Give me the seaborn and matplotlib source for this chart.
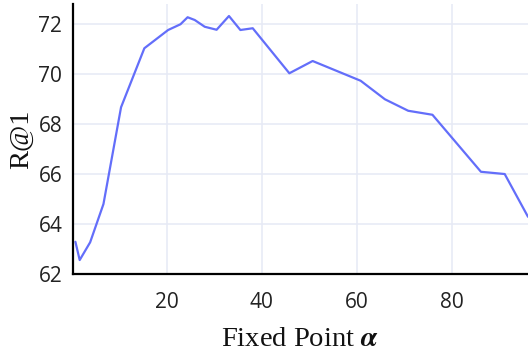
import matplotlib
matplotlib.use("Agg")
import matplotlib.pyplot as plt
import seaborn as sns
import pandas as pd

# Recall@1 as the fixed point alpha is varied
alpha = [0.8, 1.7, 3.9, 6.7, 10.4, 15.3, 20.3, 22.9, 24.4, 25.9, 28.0, 30.5,
         33.1, 35.5, 38.1, 45.8, 50.7, 60.8, 65.9, 70.8, 75.9, 86.1, 91.1, 96.0]
r_at_1 = [63.30, 62.57, 63.28, 64.81, 68.68, 71.04, 71.77, 72.00, 72.28, 72.17,
          71.90, 71.78, 72.33, 71.77, 71.84, 70.04, 70.53, 69.74, 69.00, 68.54,
          68.38, 66.10, 66.01, 64.30]
x_ticks = [20, 40, 60, 80]
y_ticks = [62, 64, 66, 68, 70, 72]

df = pd.DataFrame({"alpha": alpha, "r1": r_at_1})

sns.set_style("white")
plt.rcParams["font.family"] = ["Open Sans", "DejaVu Sans"]
plt.rcParams["mathtext.fontset"] = "stix"

W, H, DPI = 528, 356, 100
fig = plt.figure(figsize=(W / DPI, H / DPI), dpi=DPI)
left, right, top, bottom = 72.7, 528, 4, 274.3
ax = fig.add_axes([left / W, 1 - bottom / H, (right - left) / W, (bottom - top) / H])

sns.lineplot(data=df, x="alpha", y="r1", ax=ax, color="#636EFA",
             linewidth=1.6, zorder=3)

ax.set_xlim(0.23, 96.0)
ax.set_ylim(62.0, 72.81)
ax.set_xticks(x_ticks)
ax.set_yticks(y_ticks)
ax.grid(True, color="#E6EAF5", linewidth=1.1, zorder=0)
ax.set_axisbelow(True)

for side in ("top", "right"):
    ax.spines[side].set_visible(False)
for side in ("left", "bottom"):
    ax.spines[side].set_color("black")
    ax.spines[side].set_linewidth(1.6)
    ax.spines[side].set_zorder(4)

ax.tick_params(axis="both", direction="out", length=4.5, width=1.6,
               color="black", labelsize=15, labelcolor="#222222")
ax.tick_params(axis="x", pad=8)
ax.tick_params(axis="y", pad=3)

ax.set_xlabel(r"Fixed Point $\boldsymbol{\alpha}$", fontfamily="Liberation Serif",
              fontsize=20.5, labelpad=10, color="#111111")
ax.set_ylabel("R@1", fontfamily="Liberation Serif", fontsize=20.5,
              labelpad=3, color="#111111")

fig.savefig("out.png", dpi=DPI, facecolor="white")
